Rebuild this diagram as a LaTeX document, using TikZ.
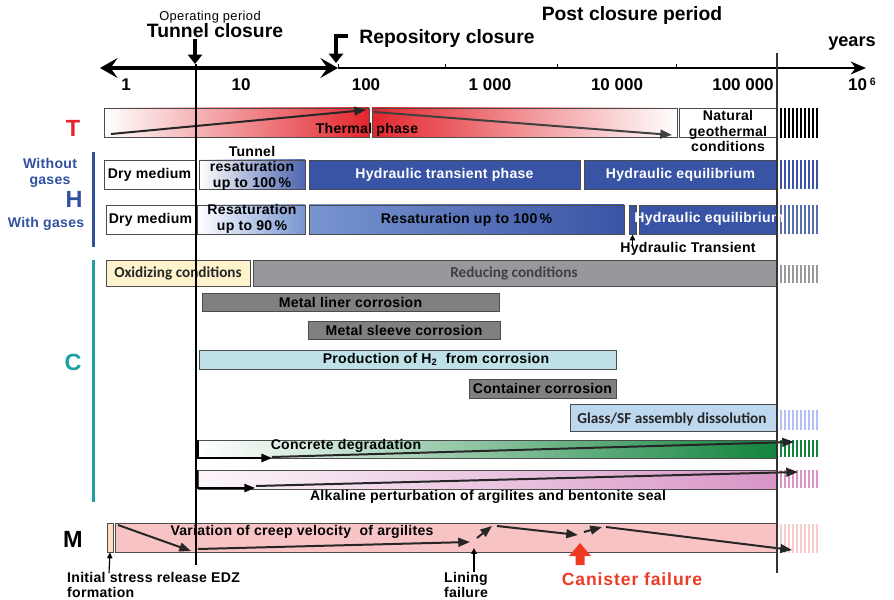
\documentclass[tikz,border=0pt]{standalone}
\usepackage{fontspec}
\setmainfont{Liberation Sans}
\newfontfamily\calfont{Carlito}
\usetikzlibrary{arrows.meta,fit}

\definecolor{tred}{HTML}{E3262D}
\definecolor{hblue}{HTML}{3A54A5}
\definecolor{hlight}{HTML}{7895D0}
\definecolor{hlabel}{HTML}{3050A0}
\definecolor{cteal}{HTML}{1FA0A0}
\definecolor{oxcream}{HTML}{FEF3CD}
\definecolor{redgray}{HTML}{98989C}
\definecolor{corrgray}{HTML}{808080}
\definecolor{hcyan}{HTML}{BDE1E6}
\definecolor{glassblue}{HTML}{BDD7EE}
\definecolor{cgreen}{HTML}{12843D}
\definecolor{apink}{HTML}{D895C6}
\definecolor{mpink}{HTML}{F8C3C4}
\definecolor{canred}{HTML}{EE3A24}

\newcommand{\boxfont}{\fontsize{12}{13.2}\selectfont\bfseries\addfontfeatures{LetterSpace=2}}
\newcommand{\calbold}{\calfont\fontsize{13}{14}\selectfont\bfseries}

\tikzset{
  phase/.style={draw=black!70, line width=0.8pt, inner sep=0pt},
  txt/.style={inner sep=0pt, font=\boxfont, align=center},
  axlbl/.style={inner sep=0pt, font=\fontsize{14.5}{15}\selectfont\bfseries},
  head/.style={inner sep=0pt, font=\fontsize{16.5}{17}\selectfont\bfseries},
  grp/.style={inner sep=0pt, font=\fontsize{20}{20}\selectfont\bfseries},
  trend/.style={draw=black!85, line width=1.7pt, -{Triangle[length=10pt,width=7.5pt]}},
  evarrow/.style={line width=1pt, -{Triangle[length=5pt,width=4.5pt]}}
}

\begin{document}
\begin{tikzpicture}[x=0.03cm, y=-0.03cm]
\useasboundingbox (0,0) rectangle (894,600);

% Laiko ašis
\draw[line width=3pt, {Stealth[length=15pt,width=17pt,inset=6pt]}-{Stealth[length=15pt,width=17pt,inset=6pt]}] (100,68) -- (338,68);
\draw[line width=1.3pt, -{Stealth[length=13pt,width=11pt,inset=4pt]}] (338,68) -- (866,68);
\foreach \tx in {338,445,557,676}
  \draw[line width=0.8pt] (\tx,64) -- (\tx,69);
\node[axlbl] (y1) at (126,85) {1};
\node[axlbl] (y10) at (241,85) {10};
\node[axlbl] (y100) at (366,85) {100};
\node[axlbl] (y1k) at (490,85) {1 000};
\node[axlbl] (y10k) at (617,85) {10 000};
\node[axlbl] (y100k) at (743,85) {100 000};
\node[axlbl] (y1m) at (862,84) {10\,\raisebox{0.55ex}{\fontsize{9}{9}\selectfont 6}};
\node[axlbl, font=\fontsize{15.5}{16}\selectfont\bfseries] (years) at (852,43) {years};

% Periodai
\node[inner sep=0pt, font=\fontsize{11}{12}\selectfont\addfontfeatures{LetterSpace=3}] (oper) at (210,17) {Operating period};
\node[head] (tunnel) at (215,31) {Tunnel closure};
\node[head] (repo) at (447,39) {Repository closure};
\node[head] (post) at (632,16) {Post closure period};
\draw[line width=2.6pt, -{Triangle[length=8pt,width=12pt]}] (195,39) -- (195,64);
\draw[line width=2.6pt, -{Triangle[length=8pt,width=12pt]}] (348,36) -| (336,63);

% Tęsinys už 10^6
\foreach \ya/\yb/\hc in {108/138/black, 160/189/hblue, 205/234/hblue!85, 265/283/redgray, 410/430/glassblue!70!blue!60, 440/457/cgreen, 470/488/apink, 524/553/mpink!85}
  \foreach \hx in {781,785,...,817}
    \draw[\hc, line width=1.1pt] (\hx,\ya) -- (\hx,\yb);

% T
\node[grp, text=tred] (T) at (73,128) {T};
\node[phase, left color=white, right color=tred, fit={(104,108) (369,137)}] (therm1) {};
\node[phase, left color=tred, right color=white, fit={(372,108) (677,137)}] (therm2) {};
\node[phase, fill=white, fit={(679,108) (777,137)}] (natbox) {};
\node[txt] (thermtxt) at (367,130) {Thermal phase};
\node[txt] (nattxt) at (728,131) {Natural\\geothermal\\conditions};
\draw[trend] (111,134) -- (366,110);
\draw[trend, draw=black!75] (374,112) -- (672,135);

% H
\fill[hlabel] (91.5,152) rectangle (94.5,247);
\node[txt, text=hlabel] (wout) at (50,173) {Without\\gases};
\node[grp, text=hlabel] (H) at (74,199) {H};
\node[txt, text=hlabel] (with) at (46,224) {With gases};

\node[phase, fill=white, fit={(104,160) (195,189)}] (dry1) {};
\node[txt] (dry1t) at (dry1) {Dry medium};
\node[phase, left color=white, right color=hblue!90, fit={(199,160) (305,189)}] (tun1) {};
\node[txt] (tun1t) at (252,168) {Tunnel\\resaturation\\up to 100\,\%};
\node[phase, fill=hblue, fit={(309,160) (580,189)}] (trans1) {};
\node[txt, text=white] (trans1t) at (trans1) {Hydraulic transient phase};
\node[phase, fill=hblue, fit={(584,160) (777,189)}] (equi1) {};
\node[txt, text=white] (equi1t) at (equi1) {Hydraulic equilibrium};

\node[phase, fill=white, fit={(106,205) (195,234)}] (dry2) {};
\node[txt] (dry2t) at (dry2) {Dry medium};
\node[phase, left color=white, right color=hlight, fit={(197,205) (305,234)}] (res90) {};
\node[txt] (res90t) at (252,219) {Resaturation\\up to 90\,\%};
\node[phase, left color=hlight, right color=hblue, fit={(309,205) (624,234)}] (res100) {};
\node[txt] (res100t) at (res100) {Resaturation up to 100\,\%};
\node[phase, fill=hblue, fit={(629,205) (636,234)}] (trans2) {};
\node[phase, fill=hblue, fit={(639,205) (777,234)}] (equi2) {};
\node[txt, text=white] (equi2t) at (709,219) {Hydraulic equilibrium};
\node[txt] (htrans) at (688,249) {Hydraulic Transient};
\coordinate (htpt) at (trans2.south |- htrans.north);
\draw[evarrow] (htpt) ++(0,3) -- (trans2.south);

% C
\fill[cteal] (91.5,260) rectangle (94.5,502);
\node[grp, text=cteal] (C) at (73,362) {C};
\node[phase, fill=oxcream, fit={(106,260) (250,286)}] (oxid) {};
\node[txt, font=\calbold, text=black!85] (oxidt) at (oxid) {Oxidizing conditions};
\node[phase, fill=redgray, fit={(253,260) (777,286)}] (reduc) {};
\node[txt, font=\calbold, text=black!75] (reduct) at (514,273) {Reducing conditions};
\node[phase, fill=corrgray, fit={(202,293) (499,311)}] (liner) {};
\node[txt] (linert) at (liner) {Metal liner corrosion};
\node[phase, fill=corrgray, fit={(308,321) (500,339)}] (sleeve) {};
\node[txt] (sleevet) at (sleeve) {Metal sleeve corrosion};
\node[phase, fill=hcyan, fit={(199,350) (616,369)}] (htwo) {};
\node[txt] (htwot) at (436,359) {Production of H\textsubscript{2}~ from corrosion};
\node[phase, fill=corrgray, fit={(469,379) (616,398)}] (contain) {};
\node[txt] (containt) at (contain) {Container corrosion};
\node[phase, fill=glassblue, fit={(570,404) (776,431)}] (glass) {};
\node[txt, font=\calbold, text=black!85] (glasst) at (672,419) {Glass/SF assembly dissolution};

\node[phase, left color=white, right color=cgreen, fit={(198,440) (777,458)}] (concr) {};
\node[txt] (concrt) at (346,446) {Concrete degradation};
\draw[line width=1.5pt, -{Triangle[length=9pt,width=7pt]}] (198,440) |- (272,458);
\draw[trend] (272,457) -- (794,442);

\node[phase, left color=apink!8, right color=apink, fit={(198,470) (777,489)}] (alkal) {};
\node[txt] (alkalt) at (488,497) {Alkaline perturbation of argilites and bentonite seal};
\draw[line width=1.5pt, -{Triangle[length=9pt,width=7pt]}] (197,470) |- (255,488);
\draw[trend] (256,486) -- (798,472);

% M
\node[grp] (M) at (73,539) {M};
\node[phase, fill=orange!25, fit={(107,523) (113,552)}] (edz) {};
\node[phase, fill=mpink, fit={(115,523) (777,552)}] (creep) {};
\node[txt] (creept) at (302,532) {Variation of creep velocity ~of argilites};
\draw[trend] (118,525) -- (191,551);
\draw[trend] (198,549) -- (470,542);
\draw[trend] (477,538) -- (492,526);
\draw[trend] (497,526) -- (578,535);
\draw[trend] (584,532) -- (602,527);
\draw[trend] (606,527) -- (792,550);

% Įvykiai
\node[txt, align=left, anchor=west] (initt) at (67,585) {Initial stress release EDZ\\formation};
\draw[evarrow] (109,573) -- (edz.south);
\node[txt] (lining) at (466,585) {Lining\\failure};
\coordinate (linpt) at (474,548);
\draw[evarrow] (lining.north -| linpt) -- (linpt);
\fill[canred] (580,543) -- (591,556) -- (584.5,556) -- (584.5,565) -- (575.5,565) -- (575.5,556) -- (569,556) -- cycle;
\node[txt, text=canred, font=\fontsize{15}{16}\selectfont\bfseries\addfontfeatures{LetterSpace=5}] (canister) at (632,579) {Canister failure};

% Vertikalios linijos
\draw[line width=1pt] (196,64) -- (196,565);
\draw[line width=1.2pt, black!80] (777,53) -- (777,573);
\end{tikzpicture}
\end{document}
